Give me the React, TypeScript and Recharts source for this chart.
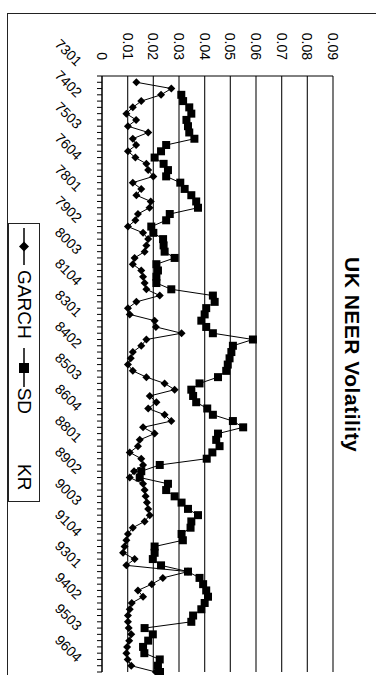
import React from "react";
import { LineChart, Line, XAxis, YAxis, CartesianGrid, Legend } from "recharts";

const FONT = "'Liberation Sans', Arial, sans-serif";

// quarterly, YYQQ
const QUARTERS = [
  "7301", "7302", "7303", "7304", "7401", "7402", "7403", "7404",
  "7501", "7502", "7503", "7504", "7601", "7602", "7603", "7604",
  "7701", "7702", "7703", "7704", "7801", "7802", "7803", "7804",
  "7901", "7902", "7903", "7904", "8001", "8002", "8003", "8004",
  "8101", "8102", "8103", "8104", "8201", "8202", "8203", "8204",
  "8301", "8302", "8303", "8304", "8401", "8402", "8403", "8404",
  "8501", "8502", "8503", "8504", "8601", "8602", "8603", "8604",
  "8701", "8702", "8703", "8704", "8801", "8802", "8803", "8804",
  "8901", "8902", "8903", "8904", "9001", "9002", "9003", "9004",
  "9101", "9102", "9103", "9104", "9201", "9202", "9203", "9204",
  "9301", "9302", "9303", "9304", "9401", "9402", "9403", "9404",
  "9501", "9502", "9503", "9504", "9601", "9602", "9603", "9604",
];

const GARCH = [
  null, 0.0134, 0.027, 0.023, 0.0153, 0.012, 0.0095, 0.0133, 0.0101, 0.018,
  0.012, 0.0133, 0.0101, 0.013, 0.0173, 0.018, 0.02, 0.012, 0.0153, 0.0134,
  0.019, 0.0185, 0.014, 0.013, 0.0101, 0.016, 0.018, 0.0173, 0.0166, 0.0127,
  0.012, 0.0153, 0.016, 0.0166, 0.0173, 0.0225, 0.0134, 0.0101, 0.0108, 0.0205,
  0.021, 0.031, 0.0173, 0.0153, 0.012, 0.0112, 0.0101, 0.012, 0.0173, 0.0244,
  0.0283, 0.0186, 0.0212, 0.018, 0.0244, 0.027, 0.016, 0.0205, 0.0147, 0.014,
  0.0108, 0.0153, 0.016, 0.0125, 0.0108, 0.016, 0.0166, 0.017, 0.0175, 0.018,
  0.0186, 0.0166, 0.012, 0.0101, 0.0095, 0.0088, 0.0082, 0.0127, 0.0095, 0.0335,
  0.0237, 0.0194, 0.014, 0.016, 0.0116, 0.0108, 0.0101, 0.0101, 0.0104, 0.0114,
  0.0106, 0.0098, 0.0095, 0.01, 0.0114, 0.021,
];

const SD = [
  null, null, null, 0.0309, 0.0316, 0.034, 0.0348, 0.0329, 0.0335, 0.034,
  0.036, 0.025, 0.023, 0.0205, 0.024, 0.0257, 0.025, 0.0305, 0.0322, 0.0348,
  0.0367, 0.0374, 0.0264, 0.025, 0.0192, 0.02, 0.0238, 0.024, 0.0244, 0.0283,
  0.0212, 0.0218, 0.0212, 0.0212, 0.027, 0.0432, 0.0439, 0.0406, 0.04, 0.0387,
  0.0406, 0.0432, 0.0588, 0.051, 0.0504, 0.0497, 0.049, 0.0484, 0.0452, 0.038,
  0.0348, 0.0355, 0.0367, 0.041, 0.0432, 0.051, 0.055, 0.0452, 0.0445, 0.0458,
  0.043, 0.0408, 0.0225, 0.0153, 0.0147, 0.0257, 0.025, 0.0283, 0.031, 0.0335,
  0.0374, 0.0348, 0.0345, 0.031, 0.0315, 0.0205, 0.0205, 0.0198, 0.023, 0.0335,
  0.038, 0.0394, 0.0406, 0.0413, 0.04, 0.0387, 0.0355, 0.0348, 0.0166, 0.0198,
  0.018, 0.016, 0.0165, 0.0225, 0.0218, 0.0226,
];

const Y_TICKS = [0, 0.01, 0.02, 0.03, 0.04, 0.05, 0.06, 0.07, 0.08, 0.09];
const LEGEND_NAMES = ["GARCH", "SD", "KR"];

const Diamond = (props: any) => {
  const { cx, cy, index } = props;
  if (cx == null || cy == null || props.value == null) return <g key={`gd-${index}`} />;
  return (
    <path
      key={`gd-${index}`}
      d={`M${cx},${cy - 4}L${cx + 4},${cy}L${cx},${cy + 4}L${cx - 4},${cy}Z`}
      fill="#000"
    />
  );
};

const Square = (props: any) => {
  const { cx, cy, index } = props;
  if (cx == null || cy == null || props.value == null) return <g key={`sq-${index}`} />;
  return <rect key={`sq-${index}`} x={cx - 4} y={cy - 4} width={8} height={8} fill="#000" />;
};

const CatTick = (props: any) => {
  const { x, y, payload, index } = props;
  if (index % 5 !== 0) return <g />;
  const ax = x - 9;
  const ay = y + 19;
  return (
    <text
      x={ax}
      y={ay}
      transform={`rotate(-45, ${ax}, ${ay})`}
      textAnchor="end"
      fontSize={14}
      fontFamily={FONT}
      fill="#000"
    >
      {payload.value}
    </text>
  );
};

const LegendBox = () => (
  <div
    style={{
      width: 279,
      height: 32,
      border: "1px solid #222",
      boxSizing: "border-box",
      display: "flex",
      alignItems: "center",
      fontSize: 19,
      fontFamily: FONT,
      color: "#000",
      whiteSpace: "nowrap",
    }}
  >
    <svg width={37} height={14} style={{ marginLeft: 4 }}>
      <line x1={0} y1={7} x2={37} y2={7} stroke="#000" strokeWidth={1.5} />
      <path d="M18.5,2L23.5,7L18.5,12L13.5,7Z" fill="#000" />
    </svg>
    <span style={{ marginLeft: 5 }}>{LEGEND_NAMES[0]}</span>
    <svg width={39} height={14} style={{ marginLeft: 9 }}>
      <line x1={0} y1={7} x2={39} y2={7} stroke="#000" strokeWidth={1.5} />
      <rect x={15} y={2} width={10} height={10} fill="#000" />
    </svg>
    <span style={{ marginLeft: 1 }}>{LEGEND_NAMES[1]}</span>
    <span style={{ marginLeft: 50 }}>{LEGEND_NAMES[2]}</span>
  </div>
);

export default function App() {
  const data = QUARTERS.map((q, i) => ({ q, GARCH: GARCH[i], SD: SD[i] }));

  return (
    <div
      style={{
        position: "absolute",
        left: 0,
        top: 0,
        width: 376,
        height: 675,
        overflow: "hidden",
        background: "#fff",
      }}
    >
      {/* chart is drawn landscape, then turned a quarter clockwise */}
      <div
        style={{
          position: "absolute",
          left: 0,
          top: 0,
          width: 675,
          height: 376,
          transformOrigin: "0 0",
          transform: "translateX(376px) rotate(90deg)",
          fontFamily: FONT,
        }}
      >
        <div
          style={{
            position: "absolute",
            left: 13,
            top: -20,
            width: 720,
            height: 389,
            border: "1px solid #222",
            boxSizing: "border-box",
          }}
        />
        <div
          style={{
            position: "absolute",
            left: 257,
            top: 13,
            whiteSpace: "nowrap",
            fontSize: 21,
            letterSpacing: 0.5,
            fontWeight: "bold",
            lineHeight: 1,
            color: "#000",
          }}
        >
          UK NEER Volatility
        </div>
        <LineChart
          width={675}
          height={376}
          data={data}
          margin={{ top: 43, right: 3, bottom: 72, left: 16 }}
        >
          <CartesianGrid vertical={false} stroke="#222" strokeWidth={1.2} />
          <XAxis
            dataKey="q"
            interval={0}
            tickSize={5}
            height={30}
            tick={<CatTick />}
            axisLine={{ stroke: "#000" }}
            tickLine={{ stroke: "#000" }}
          />
          <YAxis
            domain={[0, 0.09]}
            ticks={Y_TICKS}
            width={60}
            tickSize={8}
            tickMargin={8}
            tickLine={false}
            axisLine={{ stroke: "#000" }}
            tick={{ fill: "#000", fontSize: 14, fontFamily: FONT }}
            tickFormatter={(v: number) => (v === 0 ? "0" : v.toFixed(2))}
          />
          <YAxis
            yAxisId="right"
            orientation="right"
            width={0}
            domain={[0, 0.09]}
            tick={false}
            tickLine={false}
            axisLine={{ stroke: "#000" }}
          />
          <Legend
            layout="horizontal"
            verticalAlign="middle"
            align="center"
            content={() => <LegendBox />}
            wrapperStyle={{ position: "absolute", left: 223, top: 336, width: 279, height: 32 }}
          />
          <Line
            type="linear"
            dataKey="GARCH"
            stroke="#000"
            strokeWidth={1}
            dot={(p: any) => <Diamond key={`g-${p.index}`} {...p} />}
            activeDot={false}
            isAnimationActive={false}
          />
          <Line
            type="linear"
            dataKey="SD"
            stroke="#000"
            strokeWidth={1}
            dot={(p: any) => <Square key={`s-${p.index}`} {...p} />}
            activeDot={false}
            isAnimationActive={false}
          />
        </LineChart>
      </div>
    </div>
  );
}
